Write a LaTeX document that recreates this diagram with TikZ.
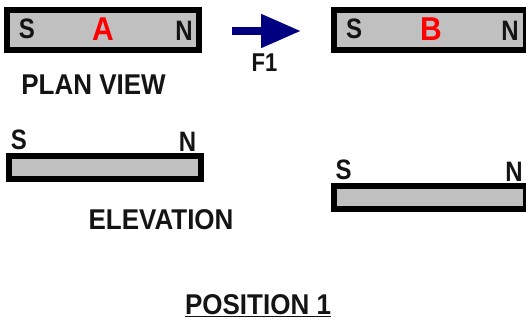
\documentclass[tikz,border=0pt]{standalone}
\usepackage{fontspec}
\usepackage{graphicx}
\setmainfont{Liberation Sans}
\usetikzlibrary{arrows.meta}
\newcommand{\tallpole}[1]{\scalebox{1}[1.17]{#1}}
\newcommand{\tallcap}[1]{\scalebox{1}[1.1]{#1}}
\definecolor{magfill}{HTML}{C0C0C0}
\definecolor{arrowblue}{HTML}{000080}
\tikzset{
  magnet/.style={draw=black,fill=magfill,line width=6pt,inner sep=0pt,outer sep=0pt,anchor=north west},
  lab/.style={font=\fontsize{26}{26}\selectfont\bfseries,inner sep=0pt,text=black!92},
  pole/.style={lab,font=\fontsize{24}{24}\selectfont\bfseries},
  letter/.style={lab,font=\fontsize{30}{30}\selectfont\bfseries,text=red},
  force/.style={draw=arrowblue,line width=8pt,-{Triangle[length=40pt,width=32pt,fill=arrowblue]}}
}
\begin{document}
\begin{tikzpicture}[x=1pt,y=-1pt]
\useasboundingbox (0,0) rectangle (526,322);
\fill[white] (0,0) rectangle (526,322);
% plan view magnets
\node[magnet,minimum width=192pt,minimum height=40pt] (ma) at (7,10) {};
\node[magnet,minimum width=192pt,minimum height=40pt] (mb) at (334,10) {};
\node[pole] (as) at (27,29) {\tallpole{S}};
\node[letter] (aa) at (103,29.5) {\tallcap{A}};
\node[pole] (an) at (184,30.5) {\tallpole{N}};
\node[pole] (bs) at (354,29) {\tallpole{S}};
\node[letter] (bb) at (431,29.5) {\tallcap{B}};
\node[pole] (bn) at (510,31) {\tallpole{N}};
% force arrow
\coordinate (f0) at (232,31);
\coordinate (f1) at (301,31);
\draw[force] (f0) -- (f1);
\node[lab,font=\fontsize{22}{22}\selectfont\bfseries] (f) at (264.5,63) {\tallpole{F1}};
\node[lab] (plan) at (93.5,85) {\tallcap{PLAN VIEW}};
% elevation magnets
\node[magnet,minimum width=192pt,minimum height=23pt] (ea) at (9,156) {};
\node[magnet,minimum width=192pt,minimum height=23pt] (eb) at (334,186) {};
\node[pole] (es) at (19,140) {\tallpole{S}};
\node[pole] (en) at (187.5,142) {\tallpole{N}};
\node[pole] (fs) at (343.5,170) {\tallpole{S}};
\node[pole] (fn) at (514,172) {\tallpole{N}};
\node[lab] (elev) at (161,220) {\tallcap{ELEVATION}};
\node[lab] (pos) at (258,306) {\underline{\tallcap{POSITION 1}}};
\end{tikzpicture}
\end{document}
